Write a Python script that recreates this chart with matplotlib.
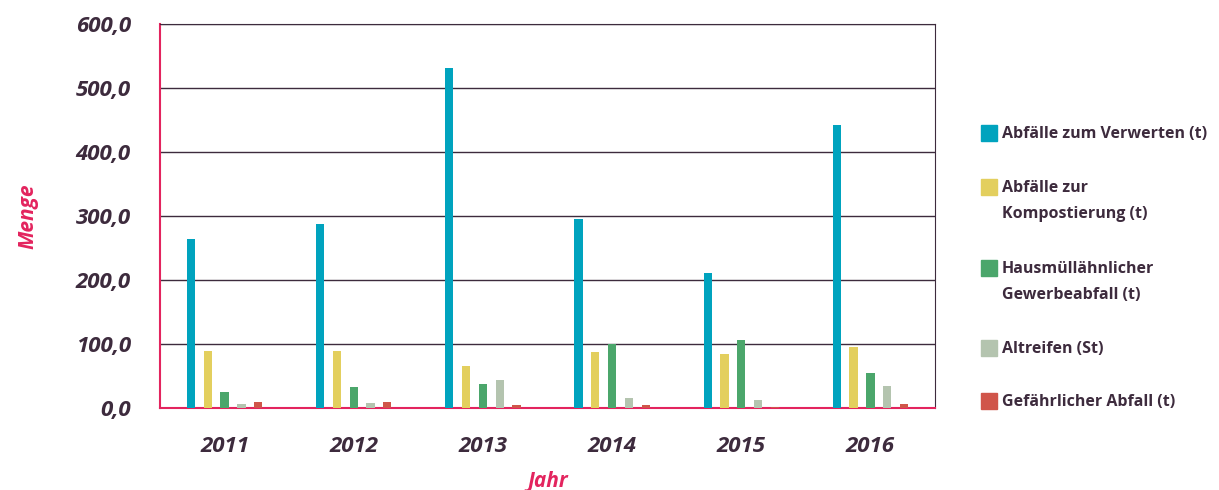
import matplotlib
matplotlib.use("Agg")
import matplotlib.pyplot as plt
from matplotlib.patches import Rectangle
from matplotlib.ticker import FuncFormatter
import numpy as np

years = ["2011", "2012", "2013", "2014", "2015", "2016"]
series_names = [
    "Abfälle zum Verwerten (t)",
    "Abfälle zur\nKompostierung (t)",
    "Hausmüllähnlicher\nGewerbeabfall (t)",
    "Altreifen (St)",
    "Gefährlicher Abfall (t)",
]
verwerten = [264, 287, 531, 295, 211, 442]
kompost = [89, 89, 65, 87, 85, 96]
gewerbe = [25, 33, 38, 100, 107, 54]
altreifen = [6, 8, 43, 16, 13, 34]
gefaehrlich = [10, 9, 4, 5, 1.5, 6]
yticks = [0, 100, 200, 300, 400, 500, 600]

colors = ["#00A3BE", "#E3CF5E", "#4BA66B", "#B4C4AF", "#D0554A"]
text_color = "#3D2B3D"
accent = "#E3245E"
font = "Open Sans"

fig = plt.figure(figsize=(12.19, 4.90), dpi=100)
ax = fig.add_axes([160 / 1219, 1 - 408 / 490, 775 / 1219, 384 / 490])

x = np.arange(len(years))
all_series = [verwerten, kompost, gewerbe, altreifen, gefaehrlich]
for i, (values, color) in enumerate(zip(all_series, colors)):
    ax.bar(x + (i - 2) * 0.13, values, width=0.064, color=color, zorder=3)

ax.set_xlim(-0.5, len(years) - 0.5)
ax.set_ylim(0, 600)
ax.set_yticks(yticks)
ax.yaxis.set_major_formatter(FuncFormatter(lambda v, _: f"{v:.1f}".replace(".", ",")))
ax.set_xticks(x)
ax.set_xticklabels(years)
ax.grid(axis="y", color=text_color, linewidth=1.0, zorder=1)
ax.tick_params(length=0, labelcolor=text_color)
ax.tick_params(axis="y", pad=21)
ax.tick_params(axis="x", pad=20)
for label in ax.get_yticklabels() + ax.get_xticklabels():
    label.set_fontfamily(font)
    label.set_fontstyle("italic")
    label.set_fontweight("bold")
    label.set_fontsize(16)

ax.spines["left"].set_color(accent)
ax.spines["bottom"].set_color(accent)
ax.spines["left"].set_linewidth(1.5)
ax.spines["bottom"].set_linewidth(1.5)
ax.spines["top"].set_color(text_color)
ax.spines["right"].set_color(text_color)

ax.set_ylabel("Menge", color=accent, fontfamily=font, fontstyle="italic",
              fontweight="bold", fontsize=15, labelpad=27)
ax.set_xlabel("Jahr", color=accent, fontfamily=font, fontstyle="italic",
              fontweight="bold", fontsize=15, labelpad=10)

# legend drawn by hand so the swatch sits on the first text line
legend_rows = [133, 187, 268, 348, 401]
for name, color, row in zip(series_names, colors, legend_rows):
    y = 1 - row / 490
    fig.patches.append(Rectangle((981 / 1219, y - 8 / 490), 16 / 1219, 16 / 490,
                                 transform=fig.transFigure, color=color))
    fig.text(1002 / 1219, y + 7 / 490, name, color=text_color, fontfamily=font,
             fontweight="bold", fontsize=11.5, va="top", ha="left",
             linespacing=1.82, transform=fig.transFigure)

fig.savefig("out.png")
